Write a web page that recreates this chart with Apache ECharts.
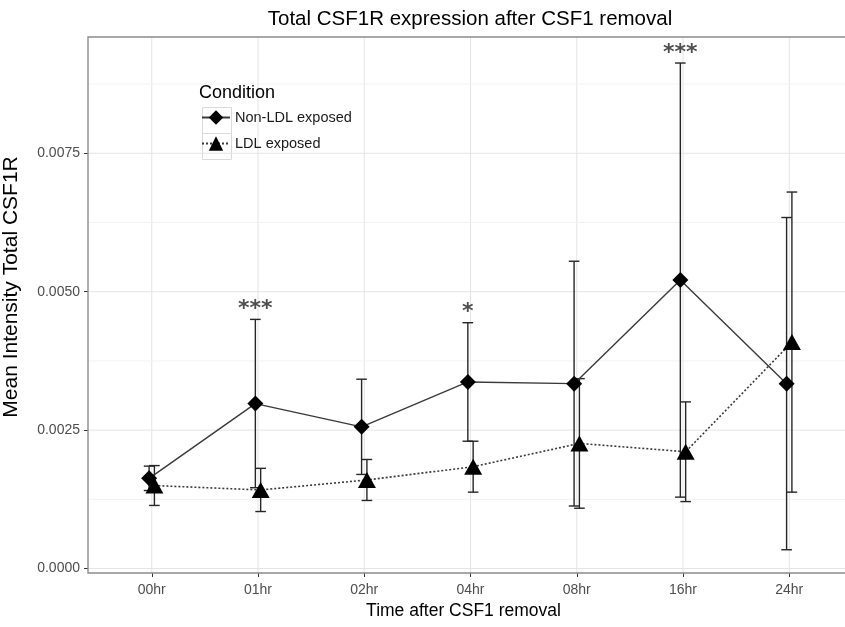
<!DOCTYPE html>
<html>
<head>
<meta charset="utf-8">
<script src="https://cdn.jsdelivr.net/npm/echarts@6/dist/echarts.min.js"></script>
<style>
  html, body { margin: 0; padding: 0; background: #fff; }
  #chart { width: 845px; height: 627px; }
</style>
</head>
<body>
<div id="chart"></div>
<script>
const categories = ['00hr', '01hr', '02hr', '04hr', '08hr', '16hr', '24hr']
const nonLdlMean = [0.00163, 0.00298, 0.00256, 0.00337, 0.00334, 0.00521, 0.00334]
const nonLdlErr = [0.00022, 0.00152, 0.00086, 0.00107, 0.00221, 0.00392, 0.00300]
const ldlMean = [0.00150, 0.00142, 0.00160, 0.00184, 0.00226, 0.00211, 0.00409]
const ldlErr = [0.00036, 0.00039, 0.00037, 0.00046, 0.00117, 0.00090, 0.00271]
const sigStars = ['', '***', '', '*', '', '***', '']
const yTicks = [0, 0.0025, 0.005, 0.0075]
const yMinorTicks = [0.00125, 0.00375, 0.00625, 0.00875]

const dodge = 0.025
const xTicks = categories.map((c, i) => i)

const chart = echarts.init(document.getElementById('chart'))

// gridlines: [x, y, kind] kind 0 = vertical, 1 = major horiz, 2 = minor horiz, 3 = panel border
const gridData = []
xTicks.forEach(v => gridData.push([v, 0, 0]))
yTicks.forEach(v => gridData.push([0, v, 1]))
yMinorTicks.forEach(v => gridData.push([0, v, 2]))
gridData.push([0, 0, 3])

function renderGrid(params, api) {
  const cs = params.coordSys
  const kind = api.value(2)
  if (kind === 3) {
    // panel is wider than the picture; its right side is cut off
    const r = cs.x + cs.width + 30
    return { type: 'polyline', z2: 10,
      shape: { points: [[r, cs.y], [cs.x, cs.y], [cs.x, cs.y + cs.height], [r, cs.y + cs.height]] },
      style: { fill: 'none', stroke: '#8c8c8c', lineWidth: 1.4 } }
  }
  if (kind === 0) {
    const px = api.coord([api.value(0), 0])[0]
    return { type: 'line', shape: { x1: px, y1: cs.y, x2: px, y2: cs.y + cs.height },
      style: { stroke: '#e4e4e4', lineWidth: 1 } }
  }
  const py = api.coord([0, api.value(1)])[1]
  return { type: 'line', shape: { x1: cs.x, y1: py, x2: cs.x + cs.width + 30, y2: py },
    style: { stroke: kind === 1 ? '#e4e4e4' : '#f2f2f2', lineWidth: 1 } }
}

function renderErrorBar(params, api) {
  const x = api.value(0)
  const top = api.coord([x, api.value(2)])
  const bot = api.coord([x, api.value(1)])
  const half = api.size([0.05, 0])[0]
  const style = { stroke: '#262626', lineWidth: 1.4 }
  return {
    type: 'group',
    children: [
      { type: 'line', shape: { x1: top[0], y1: top[1], x2: bot[0], y2: bot[1] }, style },
      { type: 'line', shape: { x1: top[0] - half, y1: top[1], x2: top[0] + half, y2: top[1] }, style },
      { type: 'line', shape: { x1: bot[0] - half, y1: bot[1], x2: bot[0] + half, y2: bot[1] }, style }
    ]
  }
}

const nonLdlPts = nonLdlMean.map((v, i) => [i - dodge, v])
const ldlPts = ldlMean.map((v, i) => [i + dodge, v])
const nonLdlBars = nonLdlMean.map((v, i) => [i - dodge, v - nonLdlErr[i], v + nonLdlErr[i]])
const ldlBars = ldlMean.map((v, i) => [i + dodge, v - ldlErr[i], v + ldlErr[i]])
const starPts = []
sigStars.forEach((s, i) => {
  if (s) starPts.push({ value: [i - dodge, nonLdlMean[i] + nonLdlErr[i]], star: s })
})

chart.setOption({
  animation: false,
  backgroundColor: '#fff',
  title: [
    {
      text: 'Total CSF1R expression after CSF1 removal',
      left: 465,
      top: 4,
      textAlign: 'center',
      textStyle: { fontFamily: 'Liberation Sans', fontSize: 20.5, fontWeight: 'normal', color: '#000' }
    },
    {
      text: 'Condition',
      left: 194,
      top: 79,
      textStyle: { fontFamily: 'Liberation Sans', fontSize: 18, fontWeight: 'normal', color: '#000' }
    }
  ],
  legend: {
    orient: 'vertical',
    left: 201,
    top: 110,
    padding: 0,
    itemWidth: 28,
    itemHeight: 18,
    itemGap: 11,
    textStyle: { fontFamily: 'Liberation Sans', fontSize: 14.5, color: '#1a1a1a' },
    data: ['Non-LDL exposed', 'LDL exposed']
  },
  graphic: [
    { type: 'rect', left: 200, top: 105, shape: { width: 29, height: 26 },
      style: { fill: 'none', stroke: '#dadada', lineWidth: 1 }, z: -1 },
    { type: 'rect', left: 200, top: 131, shape: { width: 29, height: 26 },
      style: { fill: 'none', stroke: '#dadada', lineWidth: 1 }, z: -1 }
  ],
  grid: {
    left: 88,
    top: 37,
    width: 765,
    bottom: 54,
    outerBoundsMode: 'none',
    containLabel: false,
    show: false
  },
  xAxis: {
    type: 'value',
    min: -0.6,
    max: 6.6,
    name: 'Time after CSF1 removal',
    nameLocation: 'middle',
    nameGap: 28,
    nameTextStyle: { fontFamily: 'Liberation Sans', fontSize: 17.5, color: '#000', padding: [0, 14, 0, 0] },
    axisLine: { show: false, onZero: false },
    splitLine: { show: false },
    axisTick: { show: true, customValues: xTicks, length: 4, lineStyle: { color: '#333' } },
    axisLabel: {
      customValues: xTicks,
      margin: 10,
      fontFamily: 'Liberation Sans',
      fontSize: 14,
      color: '#4d4d4d',
      formatter: v => categories[Math.round(v)]
    }
  },
  yAxis: {
    type: 'value',
    min: -0.00008,
    max: 0.0096,
    name: 'Mean Intensity Total CSF1R',
    nameLocation: 'middle',
    nameGap: 66,
    nameRotate: 90,
    nameTextStyle: { fontFamily: 'Liberation Sans', fontSize: 21, color: '#000', padding: [0, 0, 0, 36] },
    axisLine: { show: false, onZero: false },
    splitLine: { show: false },
    axisTick: { show: true, customValues: yTicks, length: 4, lineStyle: { color: '#333' } },
    axisLabel: {
      customValues: yTicks,
      margin: 8,
      fontFamily: 'Liberation Sans',
      fontSize: 14,
      color: '#4d4d4d',
      formatter: v => v.toFixed(4)
    }
  },
  series: [
    {
      type: 'custom',
      name: 'grid',
      silent: true,
      clip: false,
      z: 0,
      renderItem: renderGrid,
      encode: { x: 0, y: 1 },
      data: gridData
    },
    {
      type: 'custom',
      name: 'errNon',
      z: 2,
      renderItem: renderErrorBar,
      encode: { x: 0, y: [1, 2] },
      data: nonLdlBars
    },
    {
      type: 'custom',
      name: 'errLdl',
      z: 2,
      renderItem: renderErrorBar,
      encode: { x: 0, y: [1, 2] },
      data: ldlBars
    },
    {
      type: 'line',
      name: 'Non-LDL exposed',
      z: 3,
      data: nonLdlPts,
      symbol: 'diamond',
      symbolSize: 16,
      itemStyle: { color: '#000' },
      lineStyle: { color: '#3a3a3a', width: 1.4, type: 'solid' }
    },
    {
      type: 'line',
      name: 'LDL exposed',
      z: 3,
      data: ldlPts,
      symbol: 'triangle',
      symbolSize: [18, 16],
      itemStyle: { color: '#000' },
      lineStyle: { color: '#3a3a3a', width: 1.6, type: [2, 2] }
    },
    {
      type: 'scatter',
      name: 'stars',
      z: 4,
      symbolSize: 0,
      data: starPts,
      label: {
        show: true,
        position: 'top',
        distance: -1,
        fontFamily: 'DejaVu Sans',
        fontWeight: 'bold',
        fontSize: 22,
        color: '#222',
        formatter: p => p.data.star
      }
    }
  ]
})
</script>
</body>
</html>
